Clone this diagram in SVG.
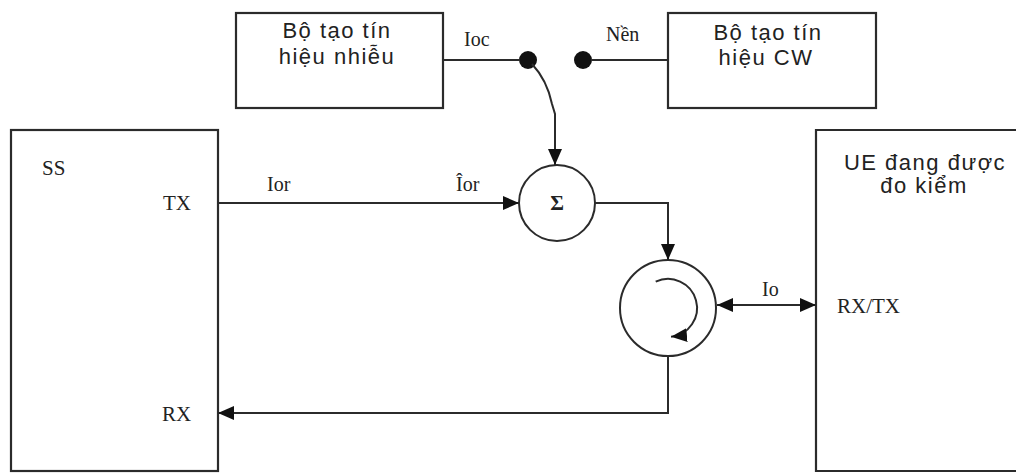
<svg xmlns="http://www.w3.org/2000/svg" width="1016" height="473" viewBox="0 0 1016 473">
<defs>
<style>
.box{fill:none;stroke:#2b2b2b;stroke-width:2.2}
.ln{fill:none;stroke:#2b2b2b;stroke-width:2}
.sans{font-family:"Liberation Sans",Arial,sans-serif;font-size:22px;fill:#222;letter-spacing:1.5px}
.serif{font-family:"Liberation Serif","Times New Roman",serif;font-size:21px;fill:#222}
.lbl{font-family:"Liberation Serif","Times New Roman",serif;font-size:20px;fill:#222}
</style>
<marker id="ah" viewBox="0 0 16 14" refX="16" refY="7" markerWidth="16" markerHeight="14" markerUnits="userSpaceOnUse" orient="auto-start-reverse">
<path d="M0,0 L16,7 L0,14 z" fill="#111"/>
</marker>
</defs>
<rect width="1016" height="473" fill="#fff"/>

<g id="noise-gen">
<rect class="box" x="236" y="13" width="207" height="95"/>
<text class="sans" text-anchor="middle" x="337" y="38">Bộ tạo tín</text>
<text class="sans" text-anchor="middle" x="337" y="64">hiệu nhiễu</text>
</g>
<g id="cw-gen">
<rect class="box" x="668" y="13" width="208" height="95"/>
<text class="sans" text-anchor="middle" x="768" y="40">Bộ tạo tín</text>
<text class="sans" text-anchor="middle" x="766" y="65">hiệu CW</text>
</g>
<g id="ss">
<rect class="box" x="11" y="130" width="207" height="341"/>
<text class="serif" x="42" y="175">SS</text>
<text class="serif" x="163" y="210">TX</text>
<text class="serif" x="162" y="421">RX</text>
</g>
<g id="ue">
<path class="box" d="M1020,130 H816 V471 H1020"/>
<text class="sans" text-anchor="middle" x="925" y="170">UE đang được</text>
<text class="sans" text-anchor="middle" x="924" y="193">đo kiểm</text>
<text class="serif" x="837" y="313">RX/TX</text>
</g>
<g id="switch">
<circle cx="528" cy="60" r="9" fill="#111"/>
<circle cx="583" cy="60" r="9" fill="#111"/>
</g>
<g id="sum">
<circle class="ln" cx="557" cy="203" r="38"/>
<text class="serif" text-anchor="middle" x="557" y="210" font-size="20" font-weight="bold">Σ</text>
</g>
<g id="circulator">
<circle class="ln" cx="668" cy="308" r="48"/>
<path class="ln" d="M655.7,281.7 A29,29 0 1 1 671,336.8" marker-end="url(#ah)"/>
</g>

<g id="connectors">
<line class="ln" x1="443" y1="60" x2="520" y2="60"/>
<line class="ln" x1="591" y1="60" x2="668" y2="60"/>
<path class="ln" d="M532,64 Q547,80 552,104 L555,114 L555,165" marker-end="url(#ah)"/>
<line class="ln" x1="218" y1="203" x2="519" y2="203" marker-end="url(#ah)"/>
<path class="ln" d="M595,203 H668 V260" marker-end="url(#ah)"/>
<path class="ln" d="M668,356 V413 H218" marker-end="url(#ah)"/>
<line class="ln" x1="717" y1="305" x2="816" y2="305" marker-start="url(#ah)" marker-end="url(#ah)"/>
</g>

<g id="labels">
<text class="lbl" x="464" y="46">Ioc</text>
<text class="lbl" x="606" y="41" font-size="17">Nền</text>
<text class="lbl" x="267" y="191">Ior</text>
<text class="lbl" x="456" y="191">Îor</text>
<text class="lbl" x="762" y="296">Io</text>
</g>
</svg>
